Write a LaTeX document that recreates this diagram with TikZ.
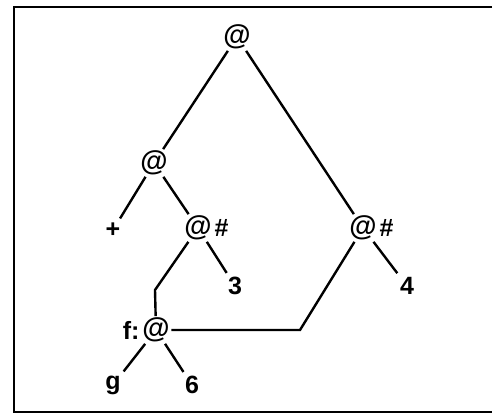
\documentclass[tikz,border=0pt]{standalone}
\usepackage{fontspec}
\setmainfont{Liberation Sans}
\usepackage{tikz}
\usetikzlibrary{positioning}

\begin{document}
\begin{tikzpicture}[
        x=1pt, y=-1pt, font=\fontsize{25}{29}\selectfont\bfseries,
        app/.style={inner sep=1.5pt, font=\fontsize{28}{32}\selectfont\bfseries},
        leaf/.style={inner sep=4pt},
        tag/.style={inner sep=1pt, font=\fontsize{25}{29}\selectfont\bfseries},
        edge/.style={line width=2.4pt},
        frame/.style={line width=2.6pt}
    ]
        \useasboundingbox (0,0) rectangle (493,419);
        \draw[frame] (492,7) -- (14,7) -- (14,412) -- (492,412);
        \node[app] (root) at (237,37) {@};
        \node[app] (lapp) at (154,163) {@};
        \node[leaf] (plus) at (113,230) {+};
        \node[app, label={[tag]right:\#}] (app1) at (198,228) {@};
        \node[leaf] (three) at (235,286) {3};
        \node[app, label={[tag]right:\#}] (app2) at (363,228) {@};
        \node[leaf] (four) at (407,286) {4};
        \node[app, label={[tag]left:f:}] (fapp) at (156,330) {@};
        \node[leaf] (g) at (113,385) {g};
        \node[leaf] (six) at (192,385) {6};
        \coordinate (bend1) at (155,290);
        \coordinate (bend2) at (300,330);
        \draw[edge] (root) -- (lapp);
        \draw[edge] (root) -- (app2);
        \draw[edge] (lapp) -- (plus);
        \draw[edge] (lapp) -- (app1);
        \draw[edge] (app1) -- (three);
        \draw[edge] (app1) -- (bend1) -- (fapp);
        \draw[edge] (app2) -- (four);
        \draw[edge] (app2) -- (bend2) -- (fapp);
        \draw[edge] (fapp) -- (g);
        \draw[edge] (fapp) -- (six);
    \end{tikzpicture}
\end{document}
